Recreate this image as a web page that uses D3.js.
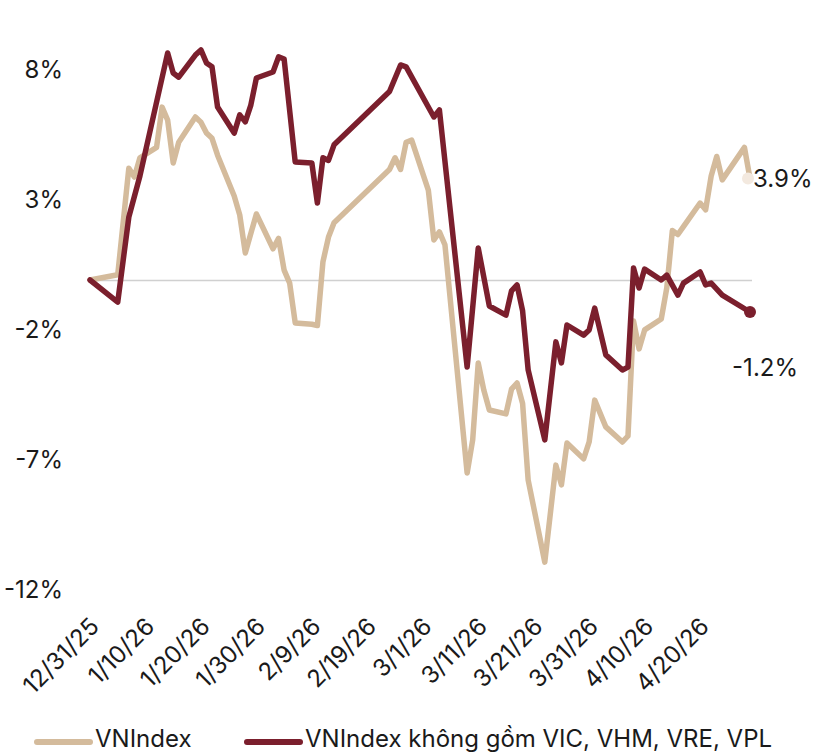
<!DOCTYPE html>
<html>
<head>
<meta charset="utf-8">
<title>VNIndex</title>
<script src="https://cdn.jsdelivr.net/npm/d3@7"></script>
<style>
  body { margin: 0; background: #fff; }
  svg text { font-family: Inter, "Open Sans", sans-serif; fill: #1a1a1a; }
</style>
</head>
<body>
<div id="chart"></div>
<script>

// VNIndex (beige)
var vnDates = ["2025-12-31","2026-01-05","2026-01-07","2026-01-08","2026-01-09","2026-01-12","2026-01-13","2026-01-14","2026-01-15","2026-01-16",
  "2026-01-19","2026-01-20","2026-01-21","2026-01-22","2026-01-23","2026-01-26","2026-01-27","2026-01-28","2026-01-30",
  "2026-02-02","2026-02-03","2026-02-04","2026-02-05","2026-02-06","2026-02-09","2026-02-10","2026-02-11","2026-02-12","2026-02-13",
  "2026-02-23","2026-02-24","2026-02-25","2026-02-26","2026-02-27",
  "2026-03-02","2026-03-03","2026-03-04","2026-03-05","2026-03-09","2026-03-10","2026-03-11","2026-03-12","2026-03-13",
  "2026-03-16","2026-03-17","2026-03-18","2026-03-19","2026-03-20","2026-03-23","2026-03-25","2026-03-26","2026-03-27",
  "2026-03-30","2026-03-31","2026-04-01","2026-04-03","2026-04-06","2026-04-07","2026-04-08","2026-04-09","2026-04-10",
  "2026-04-13","2026-04-14","2026-04-15","2026-04-16","2026-04-17","2026-04-20","2026-04-21","2026-04-22","2026-04-23","2026-04-24",
  "2026-04-28","2026-04-29"];
var vnValues = [0, 0.2, 4.3, 3.96, 4.7, 5.1, 6.65, 6.15, 4.5, 5.3,
  6.27, 6.07, 5.65, 5.45, 4.8, 3.23, 2.5, 1.04, 2.54,
  1.2, 1.6, 0.38, -0.12, -1.65, -1.7, -1.75, 0.7, 1.65, 2.2,
  4.25, 4.7, 4.25, 5.3, 5.38,
  3.46, 1.54, 1.85, 1.35, -7.42, -6.15, -3.19, -4.23, -5.0,
  -5.15, -4.2, -3.96, -4.75, -7.69, -10.85, -7.12, -7.88, -6.27,
  -6.88, -6.23, -4.62, -5.65, -6.23, -6.0, -1.58, -2.65, -1.92,
  -1.5, -0.3, 1.9, 1.75, 2.05, 2.96, 2.7, 4.0, 4.75, 3.85,
  5.1, 3.9];

// VNIndex excluding VIC, VHM, VRE, VPL (dark red)
var exDates = ["2025-12-31","2026-01-05","2026-01-07","2026-01-09","2026-01-14","2026-01-15","2026-01-16",
  "2026-01-19","2026-01-20","2026-01-21","2026-01-22","2026-01-23","2026-01-26","2026-01-27","2026-01-28","2026-01-29","2026-01-30",
  "2026-02-02","2026-02-03","2026-02-04","2026-02-06","2026-02-09","2026-02-10","2026-02-11","2026-02-12","2026-02-13",
  "2026-02-23","2026-02-25","2026-02-26",
  "2026-03-03","2026-03-04","2026-03-09","2026-03-11","2026-03-13",
  "2026-03-16","2026-03-17","2026-03-18","2026-03-19","2026-03-20","2026-03-23","2026-03-25","2026-03-26","2026-03-27",
  "2026-03-30","2026-03-31","2026-04-01","2026-04-03","2026-04-06","2026-04-07","2026-04-08","2026-04-09","2026-04-10",
  "2026-04-13","2026-04-14","2026-04-16","2026-04-17","2026-04-20","2026-04-21","2026-04-22","2026-04-24","2026-04-29"];
var exValues = [0, -0.85, 2.42, 4.0, 8.73, 7.96, 7.8,
  8.65, 8.85, 8.35, 8.2, 6.65, 5.65, 6.35, 6.08, 6.73, 7.77,
  8.0, 8.58, 8.5, 4.54, 4.5, 2.96, 4.7, 4.6, 5.2,
  7.25, 8.27, 8.2,
  6.27, 6.54, -3.35, 1.23, -1.0,
  -1.35, -0.42, -0.19, -1.19, -3.46, -6.15, -2.38, -3.19, -1.73,
  -2.12, -1.92, -1.08, -2.88, -3.46, -3.35, 0.46, -0.31, 0.42,
  0.0, 0.19, -0.58, -0.12, 0.31, -0.19, -0.12, -0.58, -1.23];

var yTicks = [8, 3, -2, -7, -12];
var xTicks = ["2025-12-31","2026-01-10","2026-01-20","2026-01-30","2026-02-09","2026-02-19",
  "2026-03-01","2026-03-11","2026-03-21","2026-03-31","2026-04-10","2026-04-20"];
var seriesNames = ["VNIndex", "VNIndex không gồm VIC, VHM, VRE, VPL"];
var seriesColors = ["#D4BB9C", "#7B1F2D"];
var endLabels = ["3.9%", "-1.2%"];

var width = 815, height = 752;
var fontSize = 24;
var parse = d3.timeParse("%Y-%m-%d");
var fmt = d3.timeFormat("%-m/%-d/%y");

var svg = d3.select("#chart").append("svg")
  .attr("width", width).attr("height", height);

var x = d3.scaleTime()
  .domain([parse("2025-12-31"), parse("2026-04-29")])
  .range([90, 750]);

var y = d3.scaleLinear()
  .domain([-12, 8])
  .range([592, 72]);

// zero line
svg.append("line")
  .attr("x1", x.range()[0]).attr("x2", x.range()[1] + 2)
  .attr("y1", y(0) + 0.5).attr("y2", y(0) + 0.5)
  .attr("stroke", "#d0d0d0").attr("stroke-width", 1.5);

// y axis labels
var yAxis = d3.axisLeft(y).tickValues(yTicks).tickSize(0).tickPadding(0)
  .tickFormat(function(d) { return d + "%"; });
var gy = svg.append("g").attr("transform", "translate(63,-2)").call(yAxis);
gy.select(".domain").remove();
gy.selectAll("text").attr("font-size", fontSize).attr("font-family", null).attr("fill", null);

// x axis labels
var xAxis = d3.axisBottom(x).tickValues(xTicks.map(parse)).tickSize(0).tickPadding(0)
  .tickFormat(fmt);
var gx = svg.append("g").attr("transform", "translate(0,618)").call(xAxis);
gx.select(".domain").remove();
gx.selectAll("text")
  .attr("font-size", fontSize).attr("font-family", null).attr("fill", null)
  .attr("dy", null).attr("y", 0)
  .style("text-anchor", "end")
  .attr("transform", "translate(10,10) rotate(-45)");

var line = d3.line()
  .x(function(d) { return x(d.date); })
  .y(function(d) { return y(d.value); });

var series = [
  vnDates.map(function(d, i) { return { date: parse(d), value: vnValues[i] }; }),
  exDates.map(function(d, i) { return { date: parse(d), value: exValues[i] }; })
];

series.forEach(function(s, i) {
  svg.append("path")
    .datum(s)
    .attr("fill", "none")
    .attr("stroke", seriesColors[i])
    .attr("stroke-width", 5.5)
    .attr("stroke-linejoin", "round")
    .attr("stroke-linecap", "round")
    .attr("d", line);
});

// end markers
var lastVn = series[0][series[0].length - 1];
var lastEx = series[1][series[1].length - 1];
svg.append("circle").attr("cx", x(lastVn.date) - 2).attr("cy", y(lastVn.value)).attr("r", 6)
  .attr("fill", "#F3E9DF");
svg.append("circle").attr("cx", x(lastEx.date)).attr("cy", y(lastEx.value)).attr("r", 6)
  .attr("fill", seriesColors[1]);

svg.append("text").attr("x", x(lastVn.date) + 3).attr("y", y(lastVn.value))
  .attr("dy", "0.35em").attr("font-size", fontSize).text(endLabels[0]);
svg.append("text").attr("x", x(lastEx.date) + 48).attr("y", y(lastEx.value) + 56)
  .attr("dy", "0.35em").attr("font-size", fontSize).attr("text-anchor", "end").text(endLabels[1]);

// legend
var legendX = [37, 247];
var legend = svg.append("g");
seriesNames.forEach(function(name, i) {
  legend.append("line")
    .attr("x1", legendX[i]).attr("x2", legendX[i] + 53)
    .attr("y1", 742).attr("y2", 742)
    .attr("stroke", seriesColors[i]).attr("stroke-width", 6)
    .attr("stroke-linecap", "round");
  legend.append("text")
    .attr("x", legendX[i] + 58).attr("y", 747)
    .attr("font-size", fontSize)
    .text(name);
});

</script>
</body>
</html>
